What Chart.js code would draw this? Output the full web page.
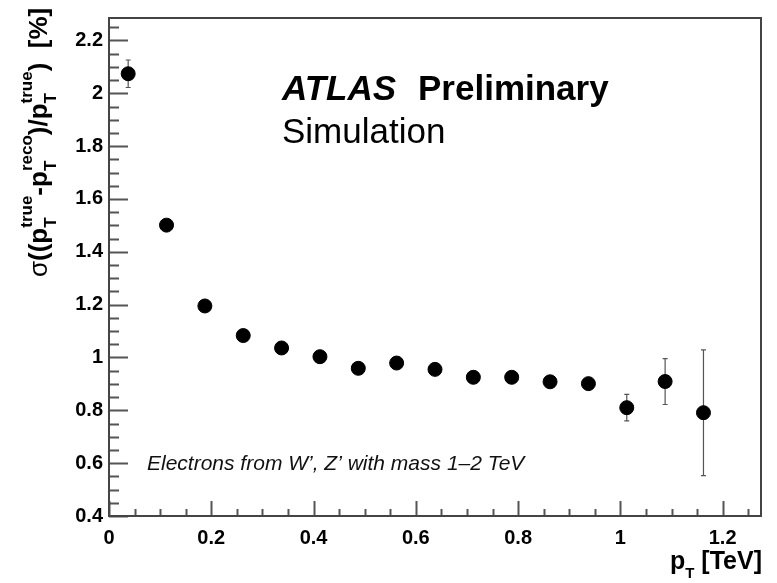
<!DOCTYPE html>
<html>
<head>
<meta charset="utf-8">
<title>Electron pT resolution</title>
<script src="https://cdn.jsdelivr.net/npm/chart.js@4"></script>
<style>
  body { margin: 0; background: #fff; }
</style>
</head>
<body>
<canvas id="resChart" width="777" height="583"></canvas>
<script>
// bin centres in TeV
const ptBins = [0.0375, 0.1125, 0.1875, 0.2625, 0.3375, 0.4125, 0.4875, 0.5625,
                0.6375, 0.7125, 0.7875, 0.8625, 0.9375, 1.0125, 1.0875, 1.1625];
// resolution in %
const resolution = [2.074, 1.501, 1.195, 1.083, 1.036, 1.003, 0.959, 0.979,
                    0.955, 0.925, 0.925, 0.908, 0.901, 0.810, 0.909, 0.791];
const resolutionErr = [0.052, 0.008, 0.006, 0.006, 0.006, 0.006, 0.006, 0.008,
                       0.008, 0.008, 0.010, 0.020, 0.012, 0.050, 0.087, 0.238];
const xTickLabels = [0, 0.2, 0.4, 0.6, 0.8, 1, 1.2];
const yTickLabels = [0.4, 0.6, 0.8, 1, 1.2, 1.4, 1.6, 1.8, 2, 2.2];

const FONT = '"Liberation Sans", Arial, Helvetica, sans-serif';
const X_MIN = 0, X_MAX = 1.275, Y_MIN = 0.4, Y_MAX = 2.285;

// error bars, drawn under the markers
const errorBars = {
  id: 'errorBars',
  beforeDatasetsDraw(chart) {
    const ctx = chart.ctx;
    const xs = chart.scales.x, ys = chart.scales.y;
    ctx.save();
    ctx.strokeStyle = '#555';
    ctx.lineWidth = 1.2;
    for (let i = 0; i < ptBins.length; i++) {
      const px = xs.getPixelForValue(ptBins[i]);
      const top = ys.getPixelForValue(resolution[i] + resolutionErr[i]);
      const bot = ys.getPixelForValue(resolution[i] - resolutionErr[i]);
      ctx.beginPath();
      ctx.moveTo(px, top); ctx.lineTo(px, bot);
      ctx.moveTo(px - 2.5, top); ctx.lineTo(px + 2.5, top);
      ctx.moveTo(px - 2.5, bot); ctx.lineTo(px + 2.5, bot);
      ctx.stroke();
    }
    ctx.restore();
  }
};

// draw a run of text pieces with sub/superscripts along the current x direction
function drawPieces(ctx, pieces, x0) {
  let x = x0;
  for (const p of pieces) {
    if (p.sup || p.sub) {
      let w = 0;
      if (p.sup) { ctx.font = p.supFont; ctx.fillText(p.sup, x, p.supDy); w = ctx.measureText(p.sup).width; }
      if (p.sub) { ctx.font = p.subFont; ctx.fillText(p.sub, x, p.subDy); w = Math.max(w, ctx.measureText(p.sub).width); }
      x += w;
    } else {
      ctx.font = p.font;
      ctx.fillText(p.text, x, 0);
      x += ctx.measureText(p.text).width;
    }
  }
  return x - x0;
}
function measurePieces(ctx, pieces) {
  let w = 0;
  for (const p of pieces) {
    if (p.sup || p.sub) {
      let m = 0;
      if (p.sup) { ctx.font = p.supFont; m = ctx.measureText(p.sup).width; }
      if (p.sub) { ctx.font = p.subFont; m = Math.max(m, ctx.measureText(p.sub).width); }
      w += m;
    } else { ctx.font = p.font; w += ctx.measureText(p.text).width; }
  }
  return w;
}

const frameAndText = {
  id: 'frameAndText',
  afterDraw(chart) {
    const ctx = chart.ctx;
    const a = chart.chartArea;
    const xs = chart.scales.x, ys = chart.scales.y;
    ctx.save();
    // ticks inside the frame
    ctx.strokeStyle = '#555';
    ctx.lineWidth = 2;
    ctx.beginPath();
    for (let v = X_MIN; v <= X_MAX + 1e-9; v += 0.05) {
      const major = Math.abs(v / 0.2 - Math.round(v / 0.2)) < 1e-6;
      const px = Math.round(xs.getPixelForValue(v)) + 0.5;
      ctx.moveTo(px, a.bottom);
      ctx.lineTo(px, a.bottom - (major ? 15 : 7));
    }
    for (let v = Y_MIN; v <= Y_MAX + 1e-9; v += 0.05) {
      const major = Math.abs(v / 0.2 - Math.round(v / 0.2)) < 1e-6;
      const py = Math.round(ys.getPixelForValue(v)) + 0.5;
      ctx.moveTo(a.left, py);
      ctx.lineTo(a.left + (major ? 19 : 10), py);
    }
    ctx.stroke();
    // frame
    ctx.strokeStyle = '#444';
    ctx.lineWidth = 2;
    ctx.strokeRect(a.left, a.top, a.right - a.left, a.bottom - a.top);

    ctx.fillStyle = '#000';
    ctx.textBaseline = 'alphabetic';
    ctx.textAlign = 'left';
    // labels
    ctx.font = 'italic bold 35px ' + FONT;
    ctx.fillText('ATLAS', 282, 100);
    ctx.font = 'bold 35px ' + FONT;
    ctx.fillText('Preliminary', 418, 100);
    ctx.font = '35px ' + FONT;
    ctx.fillText('Simulation', 282, 143);
    ctx.font = 'italic 21px ' + FONT;
    ctx.fillStyle = '#111';
    ctx.fillText('Electrons from W\u2019, Z\u2019 with mass 1\u20132 TeV', 147, 470);
    ctx.fillStyle = '#000';

    // x title
    const main = 'bold 25px ' + FONT, small = 'bold 15px ' + FONT;
    const xTitle = [
      { text: 'p', font: main },
      { sub: 'T', subFont: small, subDy: 9 },
      { text: ' [TeV]', font: main }
    ];
    const xw = measurePieces(ctx, xTitle);
    ctx.save();
    ctx.translate(762 - xw, 569);
    drawPieces(ctx, xTitle, 0);
    ctx.restore();

    // y title, rotated
    const yMain = 'bold 26px ' + FONT, ySmall = 'bold 17px ' + FONT;
    const T = (sup) => ({ sup: sup, supFont: ySmall, supDy: -15, sub: 'T', subFont: ySmall, subDy: 9 });
    const yTitle = [
      { text: '\u03c3', font: '26px ' + FONT },
      { text: '((p', font: yMain }, T('true'),
      { text: '-p', font: yMain }, T('reco'),
      { text: ')/p', font: yMain }, T('true'),
      { text: ')  [%]', font: yMain }
    ];
    ctx.save();
    ctx.translate(47, 277);
    ctx.rotate(-Math.PI / 2);
    drawPieces(ctx, yTitle, 0);
    ctx.restore();
    ctx.restore();
  }
};

new Chart(document.getElementById('resChart'), {
  type: 'scatter',
  data: {
    datasets: [{
      data: ptBins.map((x, i) => ({ x: x, y: resolution[i] })),
      backgroundColor: '#000',
      borderColor: '#000',
      pointRadius: 7,
      pointHoverRadius: 7,
      pointStyle: 'circle'
    }]
  },
  options: {
    responsive: false,
    animation: false,
    events: [],
    layout: { padding: { top: 9, right: 16, left: 0, bottom: 0 } },
    plugins: { legend: { display: false }, tooltip: { enabled: false } },
    scales: {
      x: {
        type: 'linear', min: X_MIN, max: X_MAX,
        grid: { display: false, drawTicks: false },
        border: { display: false },
        afterBuildTicks: s => { s.ticks = xTickLabels.map(v => ({ value: v })); },
        afterFit: s => { s.height = 67; },
        ticks: {
          padding: 10, color: '#000', maxRotation: 0, autoSkip: false,
          font: { family: FONT, size: 20, weight: 'bold' },
          callback: v => String(+v.toFixed(2))
        }
      },
      y: {
        type: 'linear', min: Y_MIN, max: Y_MAX,
        grid: { display: false, drawTicks: false },
        border: { display: false },
        afterBuildTicks: s => { s.ticks = yTickLabels.map(v => ({ value: v })); },
        afterFit: s => { s.width = 109; },
        ticks: {
          padding: 6, color: '#000', autoSkip: false,
          font: { family: FONT, size: 20, weight: 'bold' },
          callback: v => String(+v.toFixed(2))
        }
      }
    }
  },
  plugins: [errorBars, frameAndText]
});
</script>
</body>
</html>
